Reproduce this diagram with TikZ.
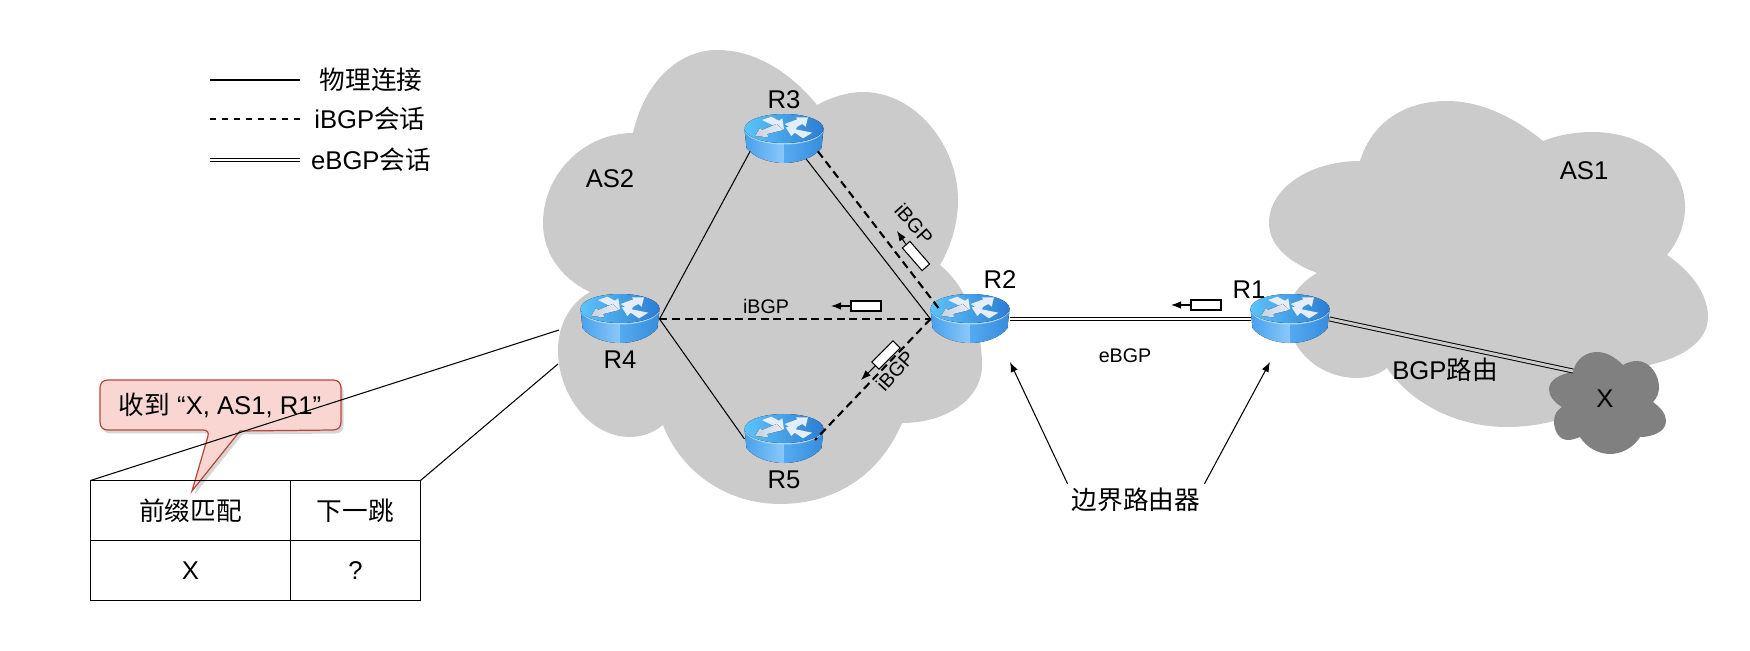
\documentclass[tikz,border=0pt]{standalone}
\usepackage{fontspec}
\setmainfont{Liberation Sans}
\newfontfamily\cjk{Noto Sans CJK SC}
\usetikzlibrary{positioning, shadows, arrows.meta, shapes.geometric}
\definecolor{cloudgray}{HTML}{CBCBCB}
\definecolor{xgray}{HTML}{808080}
\definecolor{calloutfill}{HTML}{F9D6D2}
\definecolor{calloutline}{HTML}{B9483A}
\definecolor{bodyl}{HTML}{46A0EB}
\definecolor{bodym}{HTML}{8CC8FA}
\definecolor{bodyr}{HTML}{55AAF0}
\definecolor{bodyd}{HTML}{378CDC}
\definecolor{topl}{HTML}{5CC3FA}
\definecolor{topr}{HTML}{2D7DD2}
\definecolor{rim}{HTML}{A8D6FA}
\definecolor{arrowwhite}{HTML}{E4EDF9}
\definecolor{arrowgray}{HTML}{C8D1DE}
\tikzset{
  bigtext/.style={inner sep=0pt, font=\fontsize{14.6}{16}\selectfont},
  smalltext/.style={inner sep=0pt, font=\fontsize{11.2}{13}\selectfont},
  link/.style={line width=0.6pt},
  session/.style={line width=1.2pt, dash pattern=on 4.5pt off 2.7pt},
  ebgp/.style={line width=0.55pt, double=white, double distance=1.7pt},
  routernode/.style={ellipse, minimum width=1.58cm, minimum height=0.96cm, inner sep=0pt, outer sep=0pt},
  packet/.style={draw, fill=white, line width=0.6pt, minimum width=0.6cm, minimum height=0.2cm, inner sep=0pt, outer sep=0pt},
  cellbox/.style={draw, line width=0.6pt, minimum height=1.2cm, inner sep=0pt, outer sep=0pt, font=\fontsize{14.6}{16}\selectfont},
  router/.pic={
    % body, two halves
    \fill[left color=bodyl, right color=bodym]
      (-39.5,-10) -- (-37.5,9) .. controls (-30,19) and (-14,24) .. (0,24) -- (0,-10) -- cycle;
    \fill[left color=bodyr, right color=bodyd]
      (0,-10) -- (0,24) .. controls (14,24) and (30,19) .. (37.5,9) -- (39.5,-10) -- cycle;
    % top
    \fill[rim] (0,-9.5) ellipse (39.5 and 15);
    \fill[left color=topl, right color=topr] (0,-10.5) ellipse (39.5 and 14.5);
    % white arrows
    \fill[arrowwhite] (-22,-19) -- (-12.7,-22.3) -- (-5,-18.3) -- (-1.7,-20.7) -- (0,-9.7) -- (-13.3,-10.7) -- (-10,-13) -- cycle;
    \fill[left color=arrowgray, middle color=arrowwhite, right color=arrowwhite] (-29,-3) -- (-24,-11) -- (-22,-9) -- (-7.3,-15) -- (-0.7,-9) -- (-16.7,-5) -- (-15.7,-1.7) -- cycle;
    \fill[arrowwhite] (24,-21.7) -- (21.7,-12.3) -- (18.3,-15) -- (8.3,-9.7) -- (0.7,-15) -- (13.3,-19.7) -- (11.7,-21.7) -- cycle;
    \fill[arrowwhite] (28.3,-6.3) -- (19,-0.7) -- (10.7,-6.3) -- (7.3,-3) -- (1.7,-11.7) -- (13.3,-12.3) -- (11.7,-9.7) -- cycle;
  }
}

\begin{document}
\begin{tikzpicture}[>={Latex[length=0.2cm,width=0.15cm]}, x=0.02cm, y=-0.02cm]
\useasboundingbox (0,0) rectangle (1750,651);

% clouds
\fill[cloudgray] (633,133) .. controls (645,80) and (680,50) .. (717,50) .. controls (755,50) and (790,72) .. (817,105)
  .. controls (832,97) and (848,92) .. (863,92) .. controls (915,92) and (958,145) .. (958,200) .. controls (958,225) and (950,248) .. (940,265)
  .. controls (965,285) and (982,325) .. (982,365) .. controls (982,400) and (945,423) .. (902,423)
  .. controls (880,475) and (835,504) .. (780,504) .. controls (725,504) and (680,470) .. (663,425)
  .. controls (653,433) and (642,437) .. (630,437) .. controls (590,437) and (558,395) .. (558,350) .. controls (558,325) and (570,303) .. (590,292)
  .. controls (560,278) and (543,252) .. (543,223) .. controls (543,175) and (583,133) .. (633,133) -- cycle;
\fill[cloudgray] (1360,161) .. controls (1372,122) and (1405,101) .. (1447,101) .. controls (1482,101) and (1515,118) .. (1543,141)
  .. controls (1558,135) and (1575,132) .. (1593,132) .. controls (1645,132) and (1685,165) .. (1685,207) .. controls (1685,225) and (1678,242) .. (1667,255)
  .. controls (1692,272) and (1708,295) .. (1708,317) .. controls (1708,345) and (1675,362) .. (1633,368)
  .. controls (1610,405) and (1560,427) .. (1507,427) .. controls (1455,427) and (1410,402) .. (1387,368)
  .. controls (1378,375) and (1368,378) .. (1357,378) .. controls (1320,378) and (1288,350) .. (1288,315) .. controls (1288,298) and (1300,283) .. (1317,273)
  .. controls (1288,262) and (1269,245) .. (1269,223) .. controls (1269,188) and (1310,161) .. (1360,161) -- cycle;
\fill[xgray] (1573,372) .. controls (1576,358) and (1587,352) .. (1597,352) .. controls (1607,352) and (1616,358) .. (1623,365)
  .. controls (1628,362) and (1633,361) .. (1637,361) .. controls (1650,361) and (1659,375) .. (1659,387) .. controls (1659,393) and (1657,398) .. (1653,402)
  .. controls (1661,408) and (1666,414) .. (1666,421) .. controls (1666,432) and (1652,437) .. (1640,437)
  .. controls (1634,447) and (1622,454) .. (1610,454) .. controls (1598,454) and (1586,447) .. (1580,437)
  .. controls (1575,439) and (1571,440) .. (1568,440) .. controls (1559,440) and (1554,431) .. (1554,421) .. controls (1554,415) and (1557,410) .. (1562,407)
  .. controls (1553,402) and (1549,395) .. (1549,389) .. controls (1549,380) and (1560,374) .. (1573,372) -- cycle;

% legend
\coordinate (leg1a) at (210,80);
\coordinate (leg1b) at (300,80);
\coordinate (leg2a) at (210,119);
\coordinate (leg2b) at (300,119);
\coordinate (leg3a) at (210,160);
\coordinate (leg3b) at (300,160);
\draw[link] (leg1a) -- (leg1b);
\draw[line width=0.8pt, dash pattern=on 3.4pt off 3.4pt] (leg2a) -- (leg2b);
\draw[ebgp] (leg3a) -- (leg3b);
\node[bigtext] (leg1) at (371,80) {\cjk 物理连接};
\node[bigtext] (leg2) at (370,119) {iBGP{\cjk 会话}};
\node[bigtext] (leg3) at (371,160) {eBGP{\cjk 会话}};

% routers
\node[routernode] (r3) at (784,139) {};
\node[routernode] (r4) at (620,319) {};
\node[routernode] (r2) at (970,319) {};
\node[routernode] (r5) at (784,439) {};
\node[routernode] (r1) at (1290,319) {};
\foreach \r in {r1, r2, r3, r4, r5}
  \pic at (\r) {router};
\node[bigtext, above=0.12cm of r3] (r3-label) {R3};
\node[bigtext, below=0.16cm of r4] (r4-label) {R4};
\node[bigtext, below=0.16cm of r5] (r5-label) {R5};
\node[bigtext, above=0.12cm of r2, xshift=0.6cm] (r2-label) {R2};
\node[bigtext, above=-0.08cm of r1, xshift=-0.82cm] (r1-label) {R1};
\node[bigtext] (as2) at (610,179) {AS2};
\node[bigtext] (as1) at (1584,171) {AS1};
\node[bigtext] (x) at (1605,399) {X};
\node[bigtext] (bgp-route) at (1445,370) {BGP{\cjk 路由}};

% physical links
\draw[link] (r4.east) -- (r3.200);
\draw[link] (r4.east) -- (r5.west);
\draw[link] (r3.318) -- (r2.west);

% sessions
\coordinate (r2-ne) at (940,310);
\coordinate (r5-end) at (815,440);
\coordinate (x-edge) at (1573,371);
\draw[session] (r4.east) -- (r2.west);
\draw[session] (r3.340) -- (r2-ne);
\draw[session] (r2.west) -- (r5-end);
\draw[ebgp] (r2.east) -- (r1.west);
\draw[ebgp, double=cloudgray] (r1.east) -- (x-edge);

% packets
\node[packet] (pkt-r4) at (866,306) {};
\node[packet] (pkt-r1) at (1206,305) {};
\node[packet, rotate=-49] (pkt-r3) at (916,256) {};
\node[packet, rotate=45] (pkt-r5) at (886,355) {};
\coordinate (tip-r4) at (831,306);
\coordinate (tip-r1) at (1171,305);
\coordinate (tip-r3) at (897,231);
\coordinate (tip-r5) at (861,380);
\draw[->, link] (pkt-r4.west) -- (tip-r4);
\draw[->, link] (pkt-r1.west) -- (tip-r1);
\draw[->, link] (pkt-r3.west) -- (tip-r3);
\draw[->, link] (pkt-r5.west) -- (tip-r5);
\node[smalltext] (ibgp-mid) at (766,306) {iBGP};
\node[smalltext, rotate=-48] (ibgp-up) at (914,224) {iBGP};
\node[smalltext, rotate=48] (ibgp-down) at (895,371) {iBGP};
\node[smalltext] (ebgp-label) at (1125,356) {eBGP};

% border router label
\node[bigtext, inner sep=0.08cm] (border) at (1136,500) {\cjk 边界路由器};
\coordinate (tip-r2) at (1010,362);
\coordinate (tip-r1b) at (1270,362);
\draw[->, link] (border.north west) -- (tip-r2);
\draw[->, link] (border.north east) -- (tip-r1b);

% callout
\draw[line width=0.7pt, draw=calloutline, fill=calloutfill, drop shadow={shadow xshift=0.05cm, shadow yshift=-0.07cm, fill=black!40, opacity=0.4}]
  (108,380) -- (333,380) .. controls (338,380) and (341,383) .. (341,388) -- (341,422) .. controls (341,427) and (338,430) .. (333,430)
  -- (240,431) -- (192,491) -- (208,436) .. controls (209,432) and (207,430) .. (203,430)
  -- (108,430) .. controls (103,430) and (100,427) .. (100,422) -- (100,388) .. controls (100,383) and (103,380) .. (108,380) -- cycle;
\node[bigtext] (callout-text) at (220,405) {{\cjk 收到} “X, AS1, R1”};

% table
\node[cellbox, minimum width=4cm] (prefix-head) at (190.5,510.5) {\cjk 前缀匹配};
\node[cellbox, minimum width=2.6cm, right=0cm of prefix-head] (hop-head) {\cjk 下一跳};
\node[cellbox, minimum width=4cm, below=0cm of prefix-head] (prefix-val) {X};
\node[cellbox, minimum width=2.6cm, below=0cm of hop-head] (hop-val) {?};
\coordinate (r4-top) at (559,330);
\coordinate (r4-bot) at (558,364);
\draw[link] (prefix-head.north west) -- (r4-top);
\draw[link] (hop-head.north east) -- (r4-bot);
\end{tikzpicture}
\end{document}
